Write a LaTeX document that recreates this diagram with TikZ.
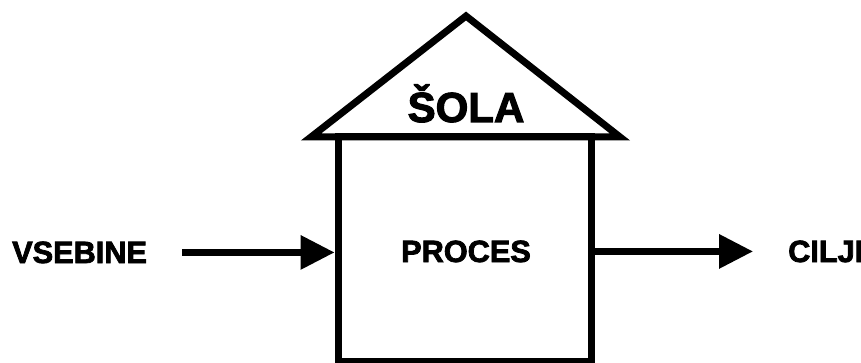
\documentclass[tikz,border=0pt]{standalone}
\usepackage{fontspec}
\setmainfont{Liberation Sans}[BoldFeatures={FakeBold=2.5}]
\usetikzlibrary{arrows.meta}
\begin{document}
\begin{tikzpicture}[x=1pt,y=-1pt,
  thick line/.style={line width=7pt, line join=miter},
  label text/.style={inner sep=0pt, font=\bfseries\fontsize{30.7}{32}\selectfont},
  arr/.style={line width=6.5pt, -{Triangle[length=34pt,width=33pt]}}]
\useasboundingbox (0,0) rectangle (861,363);
% roof
\coordinate (apex) at (466,16);
\coordinate (roofL) at (311,137);
\coordinate (roofR) at (620,137);
\draw[thick line] (roofL) -- (apex) -- (roofR) -- cycle;
\node[inner sep=0pt, anchor=base, font=\bfseries\fontsize{42}{44}\selectfont] (sola) at (466,122) {ŠOLA};
% body
\node[draw, thick line, minimum width=253pt, minimum height=224pt, inner sep=0pt] (body) at (464.5,249) {};
\node[label text, anchor=base] (proces) at (466,262) {PROCES};
% inputs / outputs
\node[label text, anchor=base west] (vsebine) at (12,263) {VSEBINE};
\node[label text, anchor=base west] (cilji) at (788,262) {CILJI};
\draw[arr] ([xshift=35pt]vsebine.east) -- (body.west |- vsebine.east);
\draw[arr] (body.east |- cilji.west) -- ([xshift=-35pt]cilji.west);
\end{tikzpicture}
\end{document}
